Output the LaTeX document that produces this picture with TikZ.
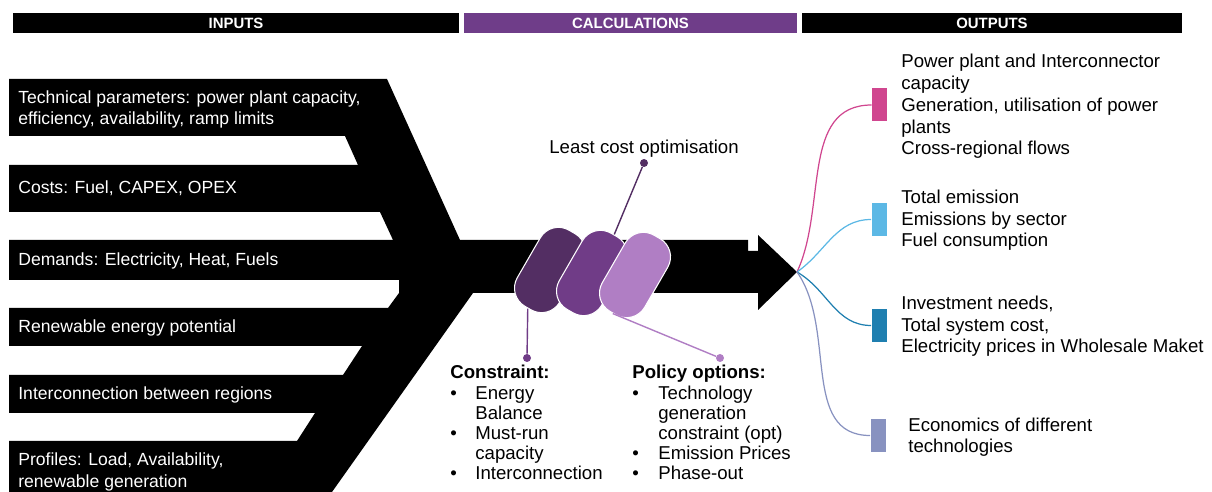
\documentclass[tikz,border=0pt]{standalone}
\usepackage{fontspec}
\setmainfont{Liberation Sans}

\definecolor{calcpurple}{RGB}{111,61,137}
\definecolor{pilldark}{RGB}{83,46,99}
\definecolor{pillmid}{RGB}{112,60,135}
\definecolor{pilllight}{RGB}{176,126,196}
\definecolor{outpink}{RGB}{208,70,143}
\definecolor{outsky}{RGB}{92,184,229}
\definecolor{outteal}{RGB}{31,127,176}
\definecolor{outlav}{RGB}{136,146,192}

\begin{document}
\begin{tikzpicture}[x=0.02cm, y=0.02cm,
	hdr/.style={minimum height=0.4cm, inner sep=0pt, text=white, font=\fontsize{8.5}{10}\selectfont\bfseries},
	intext/.style={anchor=base west, inner sep=0pt, text=white, align=left, font=\fontsize{10}{12}\selectfont},
	pill/.style={rectangle, minimum width=0.98cm, minimum height=1.76cm, rounded corners=0.42cm, rotate=-30, draw=white, line width=0.6pt},
	outbox/.style={minimum width=0.3cm, minimum height=0.66cm, inner sep=0pt},
	outtext/.style={anchor=base west, inner sep=0pt, align=left, font=\fontsize{10.6}{12.5}\selectfont},
	listtext/.style={anchor=base west, inner sep=0pt, font=\fontsize{10.6}{11.4}\selectfont},
	dot/.style={circle, inner sep=0pt, minimum size=0.16cm}]
	\useasboundingbox (0,0) rectangle (1212,-492);

	% header bars
	\draw (236,-23) node[hdr, fill=black, minimum width=8.92cm] (inputs) {INPUTS} ;
	\draw (630.5,-23) node[hdr, fill=calcpurple, minimum width=6.66cm] (calc) {CALCULATIONS} ;
	\draw (992,-23) node[hdr, fill=black, minimum width=7.6cm] (outputs) {OUTPUTS} ;

	% input funnel and main arrow
	\fill (9,-79) -- (387,-79) -- (460,-240) -- (748,-240) -- (748,-251) -- (758,-251) -- (758,-235)
		-- (797,-272) -- (758,-310) -- (758,-293) -- (473,-293) -- (332,-492) -- (9,-492)
		-- (9,-441) -- (297,-441) -- (315,-413) -- (9,-413)
		-- (9,-375) -- (343,-375) -- (362,-346) -- (9,-346)
		-- (9,-308) -- (388,-308) -- (399,-293) -- (399,-280) -- (9,-280)
		-- (9,-240) -- (393,-240) -- (380,-212) -- (9,-212)
		-- (9,-165) -- (358,-165) -- (345,-136) -- (9,-136) -- cycle;
	\coordinate (tip) at (797,-272);

	\draw (18,-125) node[intext] (tech) {Technical parameters: power plant capacity,\\efficiency, availability, ramp limits} ;
	\draw (18,-194) node[intext] (costs) {Costs: Fuel, CAPEX, OPEX} ;
	\draw (18,-266) node[intext] (demands) {Demands: Electricity, Heat, Fuels} ;
	\draw (18,-333) node[intext] (renew) {Renewable energy potential} ;
	\draw (18,-400) node[intext] (interc) {Interconnection between regions} ;
	\draw (18,-487) node[intext] (profiles) {Profiles: Load, Availability,\\renewable generation} ;

	% calculation pills
	\draw (550,-270) node[pill, fill=pilldark] (pill1) {} ;
	\draw (592,-273) node[pill, fill=pillmid] (pill2) {} ;
	\draw (635,-275) node[pill, fill=pilllight] (pill3) {} ;

	\draw (644,-154) node[anchor=base, font=\fontsize{10.6}{12}\selectfont] (lco) {Least cost optimisation} ;
	\draw (644,-163) node[dot, fill=pilldark] (lcodot) {} ;
	\draw (527,-358) node[dot, fill=pillmid] (condot) {} ;
	\draw (720,-358) node[dot, fill=pilllight] (poldot) {} ;
	\draw [pilldark, line width=0.8pt] (lcodot) -- (pill2.north);
	\draw [pillmid, line width=0.8pt] (condot) -- (pill1.south);
	\draw [pilllight, line width=0.8pt] (poldot) -- (pill3.south);

	\draw (450,-379) node[listtext] (constr) {\begin{tabular}[t]{@{}p{0.5cm}@{}l@{}}
		\multicolumn{2}{@{}l}{\textbf{Constraint:}}\\
		\textbullet & Energy\\ & Balance\\
		\textbullet & Must-run\\ & capacity\\
		\textbullet & Interconnection\end{tabular}} ;
	\draw (632,-379) node[listtext] (policy) {\begin{tabular}[t]{@{}p{0.52cm}@{}l@{}}
		\multicolumn{2}{@{}l}{\textbf{Policy options:}}\\
		\textbullet & Technology\\ & generation\\ & constraint (opt)\\
		\textbullet & Emission Prices\\
		\textbullet & Phase-out\end{tabular}} ;

	% outputs
	\draw (879.5,-105) node[outbox, fill=outpink] (sq1) {} ;
	\draw (879,-219.5) node[outbox, fill=outsky] (sq2) {} ;
	\draw (879,-325.5) node[outbox, fill=outteal] (sq3) {} ;
	\draw (878,-435.5) node[outbox, fill=outlav] (sq4) {} ;

	\draw [outpink, line width=0.7pt] (tip) to[out=65, in=180] (sq1.west);
	\draw [outsky, line width=0.7pt] (tip) to[out=35, in=180] (sq2.west);
	\draw [outteal, line width=0.7pt] (tip) to[out=-30, in=180] (sq3.west);
	\draw [outlav, line width=0.7pt] (tip) to[out=-55, in=180] (sq4.west);

	\draw (901,-155) node[outtext] (out1) {Power plant and Interconnector\\capacity\\Generation, utilisation of power\\plants\\Cross-regional flows} ;
	\draw (901,-247) node[outtext] (out2) {Total emission\\Emissions by sector\\Fuel consumption} ;
	\draw (901,-353) node[outtext] (out3) {Investment needs,\\Total system cost,\\Electricity prices in Wholesale Maket} ;
	\draw (908,-453) node[outtext] (out4) {Economics of different\\technologies} ;
\end{tikzpicture}
\end{document}
